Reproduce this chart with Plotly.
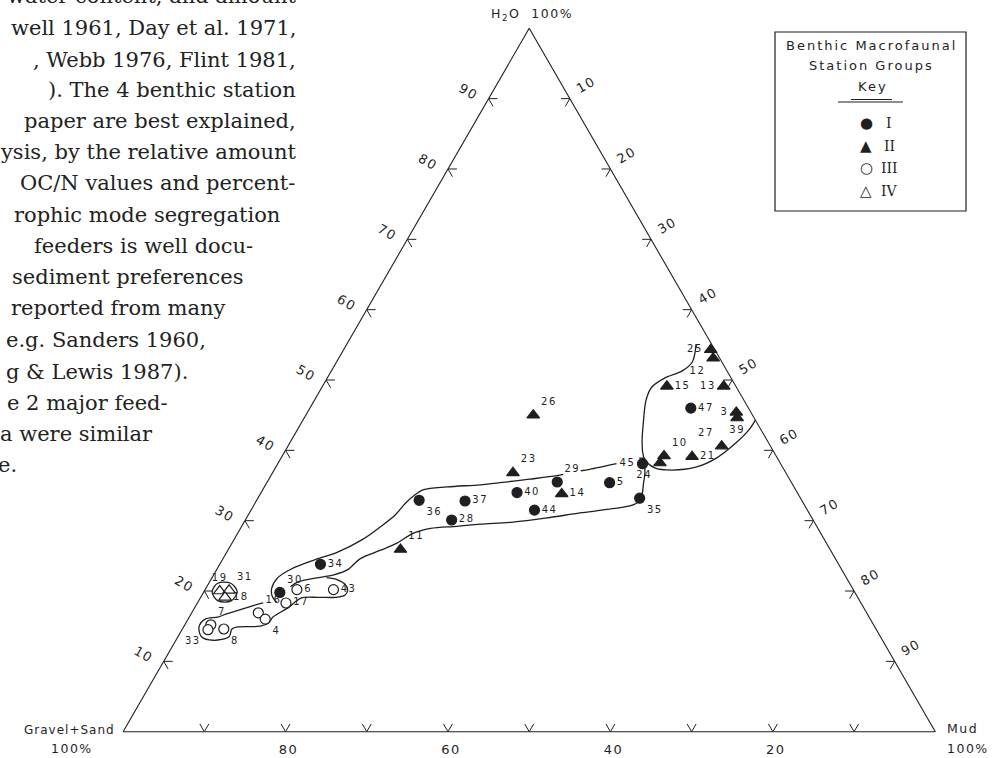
import plotly.graph_objects as go

W, H = 1002, 758
INK = "#1f1f1f"
SANS = "DejaVu Sans"
SERIF = "DejaVu Serif, Liberation Serif, serif"

# ---------------------------------------------------------------
# Benthic macrofaunal station groups.
# Each station: H2O %, Mud %; Gravel+Sand % is the remainder to 100.
# ---------------------------------------------------------------
g1_ids = ["47", "45", "29", "5", "40", "44", "35", "36", "37", "28", "34", "30"]
g1_h2o = [46.0, 38.1, 35.5, 35.4, 34.0, 31.5, 33.2, 32.9, 32.8, 30.1, 23.8, 19.8]
g1_mud = [46.9, 44.9, 35.7, 42.2, 31.5, 34.9, 47.0, 20.0, 25.7, 25.4, 12.4, 9.4]
g1_pos = ["middle right", "middle left", "top right", "middle right", "middle right",
          "middle right", "bottom right", "bottom right", "middle right", "middle right",
          "middle right", "top right"]

g2_ids = ["26", "23", "14", "11", "10", "24", "21", "27", "3", "39", "15", "13", "25", "12"]
g2_h2o = [45.0, 36.8, 33.8, 25.9, 39.2, 38.2, 39.1, 40.6, 45.4, 44.6, 49.1, 49.1, 54.3, 53.1]
g2_mud = [28.0, 29.6, 37.1, 21.2, 47.0, 47.0, 50.5, 53.4, 52.8, 53.3, 42.4, 49.4, 45.2, 46.1]
g2_pos = ["top right", "top right", "middle right", "top right", "top right", "bottom left",
          "middle right", "top left", "middle left", "bottom center", "middle right",
          "middle left", "middle left", "bottom left"]

g3_ids = ["6", "43", "17", "16", "4", "7", "33", "8"]
g3_h2o = [20.2, 20.2, 18.3, 16.9, 16.0, 15.2, 14.5, 14.6]
g3_mud = [11.3, 15.8, 10.9, 8.2, 9.5, 3.2, 3.2, 5.1]
g3_pos = ["middle right", "middle right", "middle right", "top right", "bottom right",
          "top right", "bottom left", "bottom right"]

g4_ids = ["19", "31", "18"]
g4_h2o = [20.0, 20.1, 19.1]
g4_mud = [1.9, 3.0, 3.0]
g4_pos = ["top center", "top right", "middle right"]

# Group boundaries (H2O %, Mud %); None breaks the line under a label
lobe_h2o = [55.1, 52.6, 51.3, 50.4, 49.0, 47.2, 43.9, 41.0, 38.9, 37.5, 37.2, 37.6, 38.9, 41.0, 42.9, 44.3]
lobe_mud = [43.0, 43.8, 43.2, 41.7, 40.6, 40.8, 42.1, 43.4, 44.7, 46.7, 49.0, 51.7, 53.6, 54.9, 55.6, 55.7]

upper_h2o = [38.9, 38.9, None, 38.1, 37.3, 37.1, None, 36.6, 36.4, 35.9, 35.4, 35.1, 34.8, 34.4,
             33.5, 32.4, 30.8, 29.1, 27.3, 25.5, 24.4, 23.1, 21.9, 20.4, 19.3, 18.4]
upper_mud = [44.7, 44.1, None, 41.7, 38.8, 37.8, None, 35.9, 35.2, 32.1, 28.7, 26.4, 22.5, 19.8,
             19.0, 18.5, 18.1, 17.1, 15.8, 13.6, 11.3, 9.1, 8.1, 8.1, 8.7, 9.7]

lower_h2o = [38.3, 36.9, 35.1, 33.8, 32.4, 31.7, 31.1, 30.4, 29.8, 29.5, 29.2, 28.9, 28.2, 26.8,
             25.8, 24.6, 23.0, 22.3, 21.8, 21.3, 20.6]
lower_mud = [45.0, 45.8, 46.5, 47.0, 46.9, 44.4, 40.7, 37.0, 33.1, 29.2, 26.5, 23.4, 21.6, 20.3,
             18.8, 16.9, 16.1, 14.8, 12.6, 10.9, 10.3]

loop3_h2o = [21.9, 21.6, 21.0, 20.1, 19.4, 19.1, 19.1, 19.0, 17.6, 16.3, 15.5, 15.0, 14.9, 14.6,
             13.5, 13.0, 13.5, 14.9, 16.0, 16.3, 16.7, 17.9, 18.3]
loop3_mud = [14.1, 15.6, 16.8, 17.6, 17.6, 16.6, 14.5, 12.4, 11.5, 10.3, 10.2, 9.4, 6.7, 6.1,
             6.3, 4.6, 2.9, 1.9, 2.1, 3.5, 4.3, 7.0, 8.1]

loop4_h2o = [19.9, 21.1, 21.1, 19.9, 18.6, 18.6, 19.9]
loop4_mud = [1.0, 1.1, 2.7, 4.1, 4.0, 2.4, 1.0]

# Axis divisions
h2o_ticks = [10, 20, 30, 40, 50, 60, 70, 80, 90]
mud_ticks = [10, 20, 30, 40, 50, 60, 70, 80, 90]
gs_ticks = [10, 20, 30, 40, 50, 60, 70, 80, 90]
gs_labels = [20, 40, 60, 80]
ARM = 1.1  # chevron arm length, in percent units

body_lines = [
    ("water content, and amount", 298, -4),
    ("well 1961, Day et al. 1971,", 298, 28),
    (", Webb 1976, Flint 1981,", 298, 60),
    ("). The 4 benthic station", 298, 90),
    ("paper are best explained,", 298, 121),
    ("ysis, by the relative amount", 298, 152),
    ("OC/N values and percent-", 297, 183),
    ("rophic mode segregation", 282, 215),
    ("feeders is well docu-", 255, 246),
    ("sediment preferences", 245, 277),
    ("reported from many", 228, 308),
    ("e.g. Sanders 1960,", 208, 340),
    ("g & Lewis 1987).", 190, 372),
    ("e 2 major feed-", 170, 403),
    ("a were similar", 155, 434),
    ("e.", 19, 465),
]


def remainder(h2o, mud):
    return [None if h is None else round(100 - h - m, 2) for h, m in zip(h2o, mud)]


def track(s, px=1.5):
    return f'<span style="letter-spacing:{px}px">{s}</span>'


fig = go.Figure()


def add_line(h2o, mud, width=1.3, shape="spline"):
    fig.add_trace(go.Scatterternary(
        a=h2o, b=remainder(h2o, mud), c=mud, mode="lines",
        line=dict(color=INK, width=width, shape=shape, smoothing=0.9),
        connectgaps=False, hoverinfo="skip", showlegend=False, cliponaxis=False))


for hh, mm in [(lobe_h2o, lobe_mud), (upper_h2o, upper_mud), (lower_h2o, lower_mud),
               (loop3_h2o, loop3_mud), (loop4_h2o, loop4_mud)]:
    add_line(hh, mm)

# Chevron tick marks: two short arms along the grid directions at each division
ch_a, ch_c = [], []
for t in h2o_ticks:          # left side (Mud = 0)
    ch_a += [t, t, t - ARM, None]
    ch_c += [ARM, 0, ARM, None]
for t in mud_ticks:          # right side (Gravel+Sand = 0)
    ch_a += [100 - t, 100 - t, 100 - t - ARM, None]
    ch_c += [t - ARM, t, t, None]
for t in gs_ticks:           # base (H2O = 0)
    ch_a += [ARM, 0, ARM, None]
    ch_c += [100 - t - ARM, 100 - t, 100 - t, None]
add_line(ch_a, ch_c, width=1.0, shape="linear")


def add_stations(ids, h2o, mud, pos, symbol, fill, size):
    fig.add_trace(go.Scatterternary(
        a=h2o, b=remainder(h2o, mud), c=mud, mode="markers+text",
        text=[track(s, 1.5) for s in ids], textposition=pos,
        textfont=dict(family=SANS, size=10, color=INK),
        marker=dict(symbol=symbol, size=size, color=fill, line=dict(color=INK, width=1.2)),
        cliponaxis=False, hoverinfo="skip", showlegend=False))


add_stations(g1_ids, g1_h2o, g1_mud, g1_pos, "circle", INK, 10)
add_stations(g2_ids, g2_h2o, g2_mud, g2_pos, "triangle-up", INK, 11)
add_stations(g3_ids, g3_h2o, g3_mud, g3_pos, "circle", "white", 10)
add_stations(g4_ids, g4_h2o, g4_mud, g4_pos, "triangle-up", "white", 11)

axis_common = dict(showgrid=False, showline=True, linecolor=INK, linewidth=1.1,
                   ticks="outside", tickcolor="rgba(0,0,0,0)", tickmode="array",
                   tickfont=dict(family=SANS, size=13, color=INK), title=dict(text=""))


def note(text, x, y, size, xanchor="center", family=SANS, color=INK):
    return dict(text=text, x=x / W, y=1 - y / H, xref="paper", yref="paper",
                xanchor=xanchor, yanchor="middle", showarrow=False,
                font=dict(family=family, size=size, color=color))


annotations = [note(t, x, y, 21, xanchor="right", family=SERIF, color="#222")
               for t, x, y in body_lines]
annotations += [
    note(track("H<sub>2</sub>O\u00a0\u00a0100%"), 532, 14, 12.5),
    note(track("Gravel+Sand", 1), 117, 730, 12, xanchor="right"),
    note(track("100%"), 72, 748, 12.5),
    note(track("Mud"), 945, 728, 12.5, xanchor="left"),
    note(track("100%"), 945, 748, 12.5, xanchor="left"),
    note(track("Benthic Macrofaunal", 2), 871, 45, 13),
    note(track("Station Groups", 2), 871, 65, 13),
    note(track("Key", 2), 873, 86, 13),
]
legend_rows = [("●", "I", 123), ("▲", "II", 146), ("○", "III", 168), ("△", "IV", 191)]
for sym, num, y in legend_rows:
    annotations.append(note(sym, 866, y, 15))
    annotations.append(note(num, 889, y, 14, family=SERIF))

shapes = [
    dict(type="rect", xref="paper", yref="paper", x0=775 / W, x1=966 / W,
         y0=1 - 211 / H, y1=1 - 32 / H, line=dict(color=INK, width=1.2)),
    dict(type="line", xref="paper", yref="paper", x0=838 / W, x1=903 / W,
         y0=1 - 102 / H, y1=1 - 102 / H, line=dict(color=INK, width=1.2)),
    dict(type="line", xref="paper", yref="paper", x0=851 / W, x1=892 / W,
         y0=1 - 99.5 / H, y1=1 - 99.5 / H, line=dict(color=INK, width=1)),
]

fig.update_layout(
    width=W, height=H, margin=dict(l=0, r=0, t=0, b=0),
    paper_bgcolor="white", plot_bgcolor="white", showlegend=False,
    ternary=dict(
        sum=100, bgcolor="white",
        domain=dict(x=[121.7 / W, 936.7 / W], y=[1 - 731.7 / H, 1 - 28.3 / H]),
        aaxis=dict(axis_common, tickvals=h2o_ticks, ticktext=[track(v) for v in h2o_ticks],
                   tickangle=30, ticklen=8),
        baxis=dict(axis_common, tickvals=gs_labels, ticktext=[track(v) for v in gs_labels],
                   tickangle=0, ticklen=6),
        caxis=dict(axis_common, tickvals=mud_ticks, ticktext=[track(v) for v in mud_ticks],
                   tickangle=-30, ticklen=8),
    ),
    annotations=annotations, shapes=shapes,
)

fig.write_html("out.html")
